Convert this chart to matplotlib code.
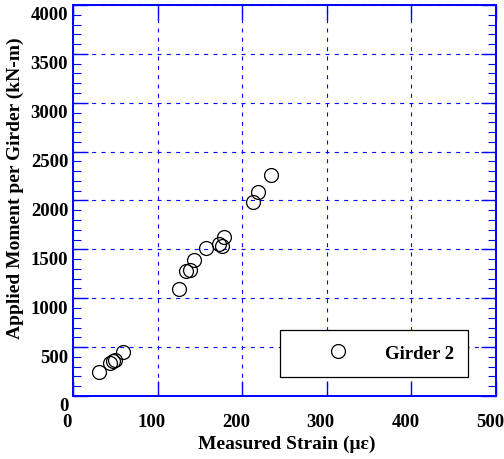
import matplotlib
matplotlib.use('Agg')
import matplotlib.pyplot as plt
import matplotlib.transforms as mtransforms
from matplotlib.ticker import MultipleLocator

plt.rcParams['font.family'] = ['Liberation Serif', 'DejaVu Serif']
plt.rcParams['font.weight'] = 'bold'

# Girder 2 : measured strain (micro-strain) vs applied moment (kN-m)
strain = [31, 44, 47, 50, 59,
          125, 133, 138, 143, 157, 173, 176, 179,
          213, 219, 234]
moment = [245, 335, 355, 372, 454,
          1090, 1279, 1292, 1386, 1510, 1558, 1534, 1630,
          1987, 2089, 2265]

x_ticks = [0, 100, 200, 300, 400, 500]
y_ticks = [0, 500, 1000, 1500, 2000, 2500, 3000, 3500, 4000]

blue = '#0000ff'

fig = plt.figure(figsize=(5.04, 4.60), dpi=100)
ax = fig.add_axes([0.145, 0.137, 0.839, 0.850])

ax.plot(strain, moment, linestyle='none', marker='o', markersize=10,
        markerfacecolor='none', markeredgecolor='black', markeredgewidth=0.9,
        label='Girder 2', zorder=3)

ax.set_xlim(0, 500)
ax.set_ylim(0, 4000)
ax.set_xticks(x_ticks)
ax.set_yticks(y_ticks)
ax.yaxis.set_minor_locator(MultipleLocator(100))

ax.grid(True, which='major', color=blue, linewidth=0.8, linestyle=(0, (3.6, 4.8)))

for sp in ax.spines.values():
    sp.set_color(blue)
    sp.set_linewidth(1.4)

ax.tick_params(which='both', direction='in', top=True, right=True, colors=blue,
               labelcolor='black', labelsize=13.5)
ax.tick_params(which='major', length=11, width=1.0)
ax.tick_params(which='minor', length=6, width=0.8)
ax.tick_params(axis='y', pad=3.5)
ax.tick_params(axis='x', pad=12)

ax.set_xlabel('Measured Strain (\u03bc\u03b5)', fontsize=14, fontweight='bold')
ax.set_ylabel('Applied Moment per Girder (kN-m)', fontsize=14, fontweight='bold')
ax.xaxis.set_label_coords(0.506, -0.10)
ax.yaxis.set_label_coords(-0.116, 0.535)

# the original tick labels sit a bit off their ticks
dx = mtransforms.ScaledTranslation(-6 / 100, 0, fig.dpi_scale_trans)
dy = mtransforms.ScaledTranslation(0, -8 / 100, fig.dpi_scale_trans)
for lab in ax.get_xticklabels():
    lab.set_transform(lab.get_transform() + dx)
for lab in ax.get_yticklabels():
    lab.set_transform(lab.get_transform() + dy)

leg = ax.legend(loc='lower left', bbox_to_anchor=(0.489, 0.0486, 0.445, 0.125),
                mode='expand', borderaxespad=0, fontsize=13.5, frameon=True,
                fancybox=False, borderpad=0.8, handlelength=4.6,
                handletextpad=0.23, numpoints=1, framealpha=1)
leg.get_frame().set_edgecolor('black')
leg.get_frame().set_linewidth(0.9)

fig.savefig('out.png', dpi=100)
